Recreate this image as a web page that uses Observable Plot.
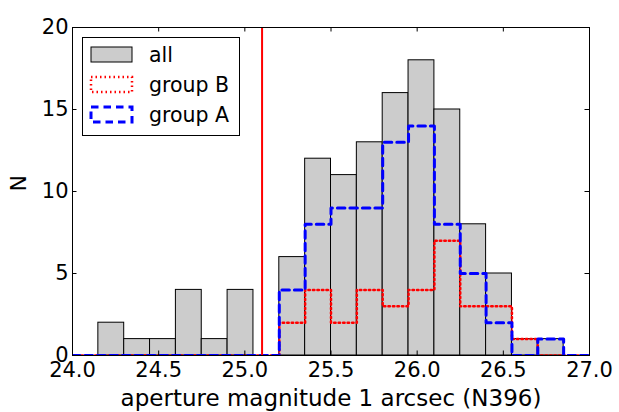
<!DOCTYPE html>
<html>
<head>
<meta charset="utf-8">
<script src="https://cdn.jsdelivr.net/npm/d3@7"></script>
<script src="https://cdn.jsdelivr.net/npm/@observablehq/plot@0.6"></script>
<style>
  body { margin: 0; background: #fff; }
  #chart { position: relative; width: 619px; height: 412px; font-family: "DejaVu Sans", sans-serif; }
  #legend { position: absolute; left: 82px; top: 37px; }
</style>
</head>
<body>
<div id="chart"></div>
<script>
// Histogram bin edges (magnitudes)
const binEdges = [24.0, 24.15, 24.3, 24.45, 24.6, 24.75, 24.9, 25.05, 25.2, 25.35,
                  25.5, 25.65, 25.8, 25.95, 26.1, 26.25, 26.4, 26.55, 26.7, 26.85, 27.0];
// Counts per bin
const countAll = [0, 2, 1, 1, 4, 1, 4, 0, 6, 12, 11, 13, 16, 18, 15, 8, 5, 1, 1, 0];
const countB   = [0, 0, 0, 0, 0, 0, 0, 0, 2, 4, 2, 4, 3, 4, 7, 3, 3, 1, 0, 0];
const countA   = [0, 0, 0, 0, 0, 0, 0, 0, 4, 8, 9, 9, 13, 14, 8, 5, 2, 0, 1, 0];
const seriesNames = ["all", "group B", "group A"];
const cutMag = 25.1;
const xTicks = [24.0, 24.5, 25.0, 25.5, 26.0, 26.5, 27.0];
const yTicks = [0, 5, 10, 15, 20];

const W = 619, H = 412;
const mL = 72, mR = 30, mT = 27, mB = 57;
const frameW = W - mL - mR, frameH = H - mT - mB;
const tickLen = 4.5;

const bars = countAll
  .map((n, i) => ({x1: binEdges[i], x2: binEdges[i + 1], n}))
  .filter(d => d.n > 0);
const steps = counts => binEdges.map((e, i) => ({x: e, n: i < counts.length ? counts[i] : 0}));

const styleB = {stroke: "red", strokeWidth: 2.5, strokeDasharray: "1.5,3"};
const styleA = {stroke: "blue", strokeWidth: 3, strokeDasharray: "7.5,5"};

const chart = Plot.plot({
  width: W, height: H,
  marginLeft: mL, marginRight: mR, marginTop: mT, marginBottom: mB,
  style: {fontFamily: "DejaVu Sans, sans-serif", fontSize: "21px", background: "white", color: "black"},
  x: {domain: [24, 27]},
  y: {domain: [0, 20]},
  marks: [
    Plot.rectY(bars, {x1: "x1", x2: "x2", y: "n", fill: "#cccccc", stroke: "black", strokeWidth: 1, clip: true}),
    Plot.line(steps(countB), {x: "x", y: "n", curve: "step-after", ...styleB, clip: true}),
    Plot.line(steps(countA), {x: "x", y: "n", curve: "step-after", ...styleA, clip: true}),
    Plot.ruleX([cutMag], {stroke: "red", strokeWidth: 2}),
    Plot.frame({stroke: "black", strokeWidth: 1}),
    // inward ticks on all four sides
    Plot.tickX(xTicks, {x: d => d, insetTop: frameH - tickLen, stroke: "black"}),
    Plot.tickX(xTicks, {x: d => d, insetBottom: frameH - tickLen, stroke: "black"}),
    Plot.tickY(yTicks, {y: d => d, insetRight: frameW - tickLen, stroke: "black"}),
    Plot.tickY(yTicks, {y: d => d, insetLeft: frameW - tickLen, stroke: "black"}),
    Plot.axisX(xTicks, {tickSize: 0, tickPadding: 7, tickFormat: d3.format(".1f"), label: null}),
    Plot.axisY(yTicks, {tickSize: 0, tickPadding: 4, label: null}),
    Plot.text(["aperture magnitude 1 arcsec (N396)"], {frameAnchor: "bottom", dy: 43, fontSize: 23, lineAnchor: "middle"}),
    Plot.text(["N"], {frameAnchor: "left", dx: -54, rotate: -90, fontSize: 22, lineAnchor: "middle"})
  ]
});

const root = document.getElementById("chart");
root.appendChild(chart);

// Legend box
const lg = d3.create("svg")
  .attr("id", "legend")
  .attr("width", 158).attr("height", 99)
  .style("font-family", "DejaVu Sans, sans-serif")
  .style("font-size", "20.5px");
lg.append("rect").attr("x", 0.5).attr("y", 0.5).attr("width", 157).attr("height", 98)
  .attr("fill", "white").attr("stroke", "black");
const rows = [
  {y: 10, fill: "#cccccc", stroke: "black", sw: 1, dash: null},
  {y: 40, fill: "none", stroke: styleB.stroke, sw: styleB.strokeWidth, dash: styleB.strokeDasharray},
  {y: 70, fill: "none", stroke: styleA.stroke, sw: styleA.strokeWidth, dash: styleA.strokeDasharray}
];
rows.forEach((r, i) => {
  lg.append("rect").attr("x", 9).attr("y", r.y).attr("width", 41).attr("height", 15)
    .attr("fill", r.fill).attr("stroke", r.stroke).attr("stroke-width", r.sw)
    .attr("stroke-dasharray", r.dash);
  lg.append("text").attr("x", 67).attr("y", r.y + 7.5).attr("dy", "0.35em")
    .attr("fill", "black").text(seriesNames[i]);
});
root.appendChild(lg.node());
</script>
</body>
</html>
